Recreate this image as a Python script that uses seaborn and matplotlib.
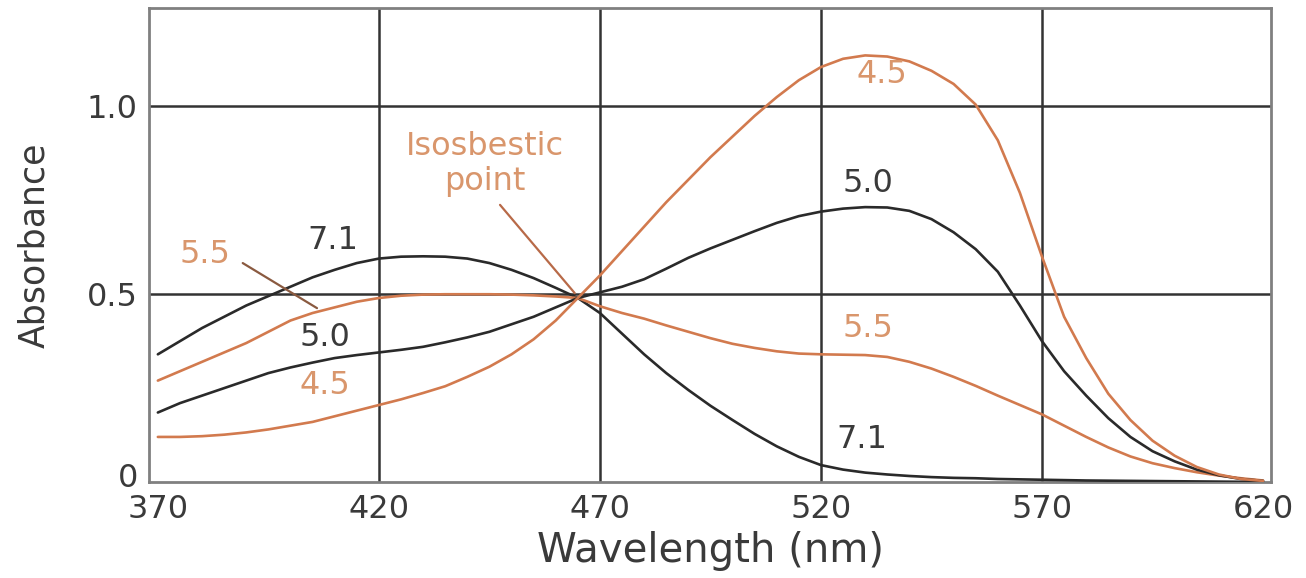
import numpy as np
import pandas as pd
import matplotlib
matplotlib.use("Agg")
import matplotlib.pyplot as plt
import matplotlib.transforms as mtransforms
import seaborn as sns

# Absorption spectra of an indicator at four pH values
wavelength = list(range(370, 621, 5))

abs_ph71 = [0.34, 0.375, 0.41, 0.44, 0.47, 0.495, 0.52, 0.545, 0.565, 0.583,
            0.595, 0.600, 0.601, 0.600, 0.595, 0.583, 0.565, 0.543, 0.517, 0.49,
            0.45, 0.395, 0.34, 0.29, 0.245, 0.203, 0.165, 0.128, 0.095, 0.067,
            0.045, 0.033, 0.025, 0.02, 0.016, 0.013, 0.011, 0.01, 0.008, 0.007,
            0.006, 0.005, 0.004, 0.0035, 0.003, 0.0025, 0.002, 0.0015, 0.001, 0.0005,
            0.0]

abs_ph55 = [0.27, 0.295, 0.32, 0.345, 0.37, 0.40, 0.43, 0.45, 0.465, 0.48,
            0.49, 0.496, 0.499, 0.50, 0.50, 0.50, 0.499, 0.497, 0.494, 0.49,
            0.468, 0.45, 0.435, 0.417, 0.40, 0.383, 0.368, 0.357, 0.348, 0.342,
            0.34, 0.339, 0.338, 0.333, 0.32, 0.302, 0.28, 0.256, 0.23, 0.205,
            0.18, 0.15, 0.12, 0.092, 0.068, 0.05, 0.037, 0.026, 0.017, 0.01,
            0.004]

abs_ph50 = [0.185, 0.21, 0.23, 0.25, 0.27, 0.29, 0.305, 0.318, 0.33, 0.338,
            0.345, 0.352, 0.36, 0.372, 0.385, 0.40, 0.42, 0.44, 0.465, 0.49,
            0.505, 0.52, 0.54, 0.568, 0.597, 0.622, 0.645, 0.668, 0.69, 0.708,
            0.72, 0.728, 0.732, 0.731, 0.722, 0.70, 0.665, 0.62, 0.56, 0.47,
            0.375, 0.295, 0.23, 0.17, 0.12, 0.082, 0.055, 0.033, 0.018, 0.008,
            0.003]

abs_ph45 = [0.12, 0.12, 0.122, 0.126, 0.132, 0.14, 0.15, 0.16, 0.175, 0.19,
            0.205, 0.22, 0.237, 0.255, 0.28, 0.307, 0.34, 0.38, 0.43, 0.49,
            0.55, 0.615, 0.68, 0.745, 0.805, 0.865, 0.92, 0.975, 1.025, 1.07,
            1.105, 1.127, 1.136, 1.133, 1.12, 1.095, 1.06, 1.005, 0.91, 0.77,
            0.60, 0.44, 0.33, 0.235, 0.165, 0.11, 0.07, 0.04, 0.02, 0.008,
            0.003]

ph_labels = ["7.1", "5.5", "5.0", "4.5"]
x_ticks = [370, 420, 470, 520, 570, 620]
y_ticks = [0, 0.5, 1.0]
y_tick_labels = ["0", "0.5", "1.0"]

DARK = "#2a2a2a"
COPPER = "#d27a4e"
LABEL_COPPER = "#d9966c"
TEXT = "#3a3a3a"

df = pd.concat([
    pd.DataFrame({"wavelength": wavelength, "absorbance": vals, "pH": lab})
    for lab, vals in zip(ph_labels, [abs_ph71, abs_ph55, abs_ph50, abs_ph45])
], ignore_index=True)

sns.set_style("white")
plt.rcParams["font.family"] = ["DejaVu Sans"]

fig = plt.figure(figsize=(13.06, 5.78), dpi=100)
ax = fig.add_axes([0.1141, 0.1661, 0.8591, 0.8199])

palette = {"7.1": DARK, "5.5": COPPER, "5.0": DARK, "4.5": COPPER}
sns.lineplot(data=df, x="wavelength", y="absorbance", hue="pH",
             palette=palette, linewidth=1.9, legend=False, ax=ax, zorder=3)

ax.set_xlim(368.0, 621.8)
ax.set_ylim(0, 1.262)

# Grid lines at the inner ticks only
for gx in x_ticks[1:-1]:
    ax.axvline(gx, color="#333333", lw=1.8, zorder=1)
for gy in [0.5, 1.0]:
    ax.axhline(gy, color="#333333", lw=1.8, zorder=1)

ax.set_xticks(x_ticks)
ax.set_xticklabels([str(t) for t in x_ticks])
ax.set_yticks(y_ticks)
ax.set_yticklabels(y_tick_labels)
ax.tick_params(axis="both", length=0, labelsize=23, colors=TEXT)
ax.tick_params(axis="x", pad=9)
ax.tick_params(axis="y", pad=8)

# Lift the zero label a little so it clears the first wavelength label
zero_label = ax.get_yticklabels()[0]
zero_label.set_transform(zero_label.get_transform() +
                         mtransforms.ScaledTranslation(0, 0.07, fig.dpi_scale_trans))

for sp in ax.spines.values():
    sp.set_color("#808080")
    sp.set_linewidth(2.0)
    sp.set_visible(True)

ax.set_xlabel("Wavelength (nm)", fontsize=29, color=TEXT, labelpad=4)
ax.set_ylabel("Absorbance", fontsize=25, color=TEXT, labelpad=26)

# Curve labels
fs = 23
ax.text(533.8, 1.084, "4.5", color=LABEL_COPPER, fontsize=fs, ha="center", va="center")
ax.text(530.6, 0.796, "5.0", color=TEXT, fontsize=fs, ha="center", va="center")
ax.text(530.6, 0.41, "5.5", color=LABEL_COPPER, fontsize=fs, ha="center", va="center")
ax.text(529.3, 0.112, "7.1", color=TEXT, fontsize=fs, ha="center", va="center")
ax.text(409.6, 0.644, "7.1", color=TEXT, fontsize=fs, ha="center", va="center")
ax.text(380.6, 0.605, "5.5", color=LABEL_COPPER, fontsize=fs, ha="center", va="center")
ax.text(407.8, 0.386, "5.0", color=TEXT, fontsize=fs, ha="center", va="center")
ax.text(407.8, 0.258, "4.5", color=LABEL_COPPER, fontsize=fs, ha="center", va="center")

ax.text(444.0, 0.847, "Isosbestic\npoint", color=LABEL_COPPER, fontsize=fs,
        ha="center", va="center", linespacing=1.15)

# Leader lines
ax.plot([447.4, 464.3], [0.738, 0.503], color="#b86a48", lw=1.6, zorder=4)
ax.plot([389.2, 406.0], [0.583, 0.463], color="#8a5a40", lw=1.6, zorder=4)

fig.savefig("out.png", dpi=100)
